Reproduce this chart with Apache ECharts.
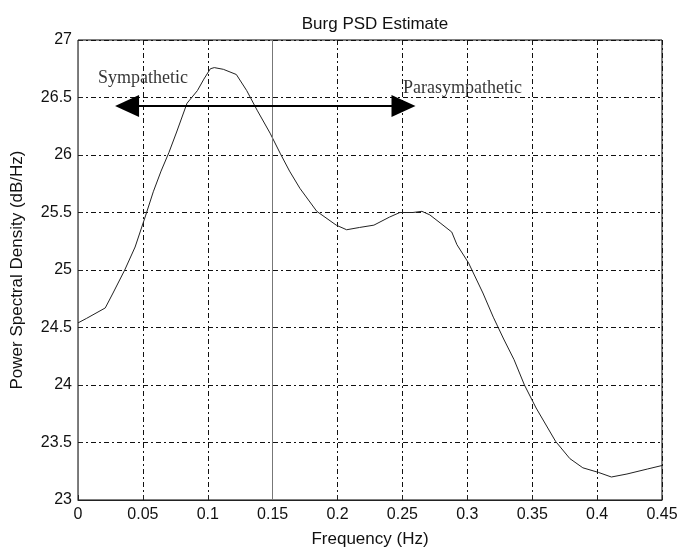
<!DOCTYPE html>
<html>
<head>
<meta charset="utf-8">
<script src="https://cdn.jsdelivr.net/npm/echarts@6/dist/echarts.min.js"></script>
<style>
    html, body { margin: 0; padding: 0; background: #fff; }
    #chart { width: 677px; height: 549px; }
</style>
</head>
<body>
<div id="chart"></div>
<script>
// 频率 (Hz)
var freq = [0, 0.0067, 0.021, 0.027, 0.036, 0.044, 0.052, 0.058, 0.064, 0.070,
    0.076, 0.084, 0.092, 0.097, 0.102, 0.105, 0.112, 0.122, 0.130, 0.138,
    0.148, 0.156, 0.163, 0.171, 0.184, 0.199, 0.207, 0.217, 0.228, 0.240,
    0.248, 0.258, 0.265, 0.271, 0.279, 0.288, 0.292, 0.301, 0.312, 0.320,
    0.328, 0.336, 0.344, 0.353, 0.368, 0.379, 0.389, 0.401, 0.411, 0.423,
    0.439, 0.45]
// 功率谱密度 (dB/Hz)
var psd = [24.54, 24.58, 24.67, 24.80, 25.00, 25.20, 25.47, 25.68, 25.86, 26.02,
    26.20, 26.45, 26.56, 26.66, 26.75, 26.76, 26.745, 26.70, 26.56, 26.39,
    26.19, 26.01, 25.86, 25.71, 25.51, 25.39, 25.35, 25.37, 25.39, 25.46,
    25.50, 25.50, 25.51, 25.48, 25.41, 25.33, 25.22, 25.06, 24.80, 24.59,
    24.40, 24.22, 24.00, 23.80, 23.51, 23.36, 23.28, 23.24, 23.20, 23.226,
    23.27, 23.30]

// 坐标轴刻度
var xTicks = [0, 0.05, 0.1, 0.15, 0.2, 0.25, 0.3, 0.35, 0.4, 0.45]
var yTicks = [23, 23.5, 24, 24.5, 25, 25.5, 26, 26.5, 27]

// 双向箭头 (两端符号的中心)
var arrowX = [0.0378, 0.2508]
var arrowY = 26.426

// 注释文字
var notes = [
    { name: 'Sympathetic', value: [0.0154, 26.67] },
    { name: 'Parasympathetic', value: [0.2505, 26.58] }
]

var pts = []
for (var i = 0; i < freq.length; i++) {
    pts.push([freq[i], psd[i]])
}

// 0.15 处为实线，不画虚线
var vColors = xTicks.map(function (t) {
    return t === 0.15 ? 'rgba(0,0,0,0)' : '#111'
})

var labelFont = {
    color: '#111',
    fontFamily: 'Liberation Sans',
    fontSize: 16
}
var nameFont = { color: '#111', fontFamily: 'Liberation Sans', fontSize: 17 }
var dashDot = [5, 3, 2, 3]

var chart = echarts.init(document.getElementById('chart'))
chart.setOption({
    animation: false,
    backgroundColor: '#fff',
    title: {
        text: 'Burg PSD Estimate',
        left: 370,
        textAlign: 'center',
        top: 11,
        textStyle: {
            color: '#111',
            fontFamily: 'Liberation Sans',
            fontSize: 17,
            fontWeight: 'normal'
        }
    },
    grid: {
        left: 78,
        right: 15,
        top: 40,
        bottom: 49,
        outerBoundsMode: 'none',
        show: true,
        borderColor: '#000',
        borderWidth: 1
    },
    xAxis: {
        type: 'value',
        min: 0,
        max: 0.45,
        interval: 0.05,
        name: 'Frequency (Hz)',
        nameLocation: 'middle',
        nameGap: 31,
        nameTextStyle: nameFont,
        axisLine: { lineStyle: { color: '#222', width: 1 } },
        axisTick: { inside: true, length: 5, lineStyle: { color: '#222' } },
        axisLabel: Object.assign({ margin: 7 }, labelFont),
        splitLine: { show: true, lineStyle: { color: vColors, type: dashDot, width: 1 } }
    },
    yAxis: {
        type: 'value',
        min: 23,
        max: 27,
        interval: 0.5,
        name: 'Power Spectral Density (dB/Hz)',
        nameLocation: 'middle',
        nameGap: 52,
        nameTextStyle: nameFont,
        axisLine: { show: true, lineStyle: { color: '#777', width: 1 } },
        axisTick: { show: true, inside: true, length: 5, lineStyle: { color: '#222' } },
        axisLabel: Object.assign({ margin: 6 }, labelFont),
        splitLine: { show: true, lineStyle: { color: '#111', type: dashDot, width: 1 } }
    },
    series: [
        {
            type: 'line',
            data: pts,
            symbol: 'none',
            lineStyle: { color: '#222', width: 1 },
            markLine: {
                silent: true,
                symbol: 'none',
                label: { show: false },
                lineStyle: { color: '#777', type: 'solid', width: 1 },
                data: [{ xAxis: 0.15 }]
            },
            z: 3
        },
        // 箭头
        {
            type: 'line',
            data: [],
            markLine: {
                silent: true,
                symbol: ['triangle', 'triangle'],
                symbolSize: [22, 24],
                label: { show: false },
                lineStyle: { color: '#000', type: 'solid', width: 2 },
                itemStyle: { color: '#000' },
                data: [[{ coord: [arrowX[0], arrowY] }, { coord: [arrowX[1], arrowY] }]]
            },
            z: 4
        },
        // 文字注释
        {
            type: 'scatter',
            data: notes,
            symbolSize: 0,
            label: {
                show: true,
                position: 'right',
                distance: 0,
                formatter: '{b}',
                color: '#000',
                fontFamily: 'Liberation Serif',
                fontSize: 18
            },
            z: 5
        }
    ]
})
</script>
</body>
</html>
